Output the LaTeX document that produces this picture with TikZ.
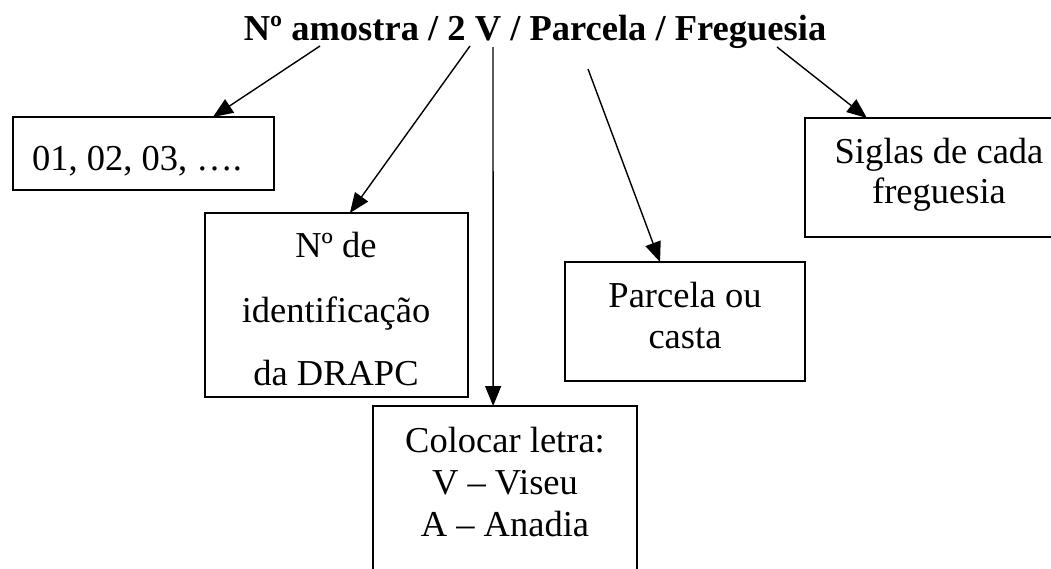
\documentclass[tikz,border=0pt]{standalone}
\usepackage{fontspec}
\setmainfont{Liberation Serif}
\usetikzlibrary{arrows.meta,calc}
\begin{document}
\begin{tikzpicture}[x=1pt,y=-1pt,
  box/.style={draw,line width=1.9pt,rectangle,inner sep=0pt,outer sep=0pt},
  txt/.style={anchor=base,inner sep=0pt,font=\fontsize{36.5}{41}\selectfont},
  ttl/.style={anchor=base,inner sep=0pt,font=\fontsize{36.5}{41}\selectfont\bfseries},
  arr/.style={line width=1.4pt,-{Triangle[length=20pt,width=16pt]}}]
\useasboundingbox (0,0) rectangle (1051,568);
% title
\node[ttl] (title) at (535,40) {Nº amostra / 2 V / Parcela / Freguesia};
% boxes
\node[box,minimum width=261pt,minimum height=73pt] (b1) at (143.5,153.5) {};
\node[box,minimum width=263pt,minimum height=184pt] (b2) at (336.5,305) {};
\node[box,minimum width=264pt,minimum height=194pt] (b3) at (505,503) {};
\node[box,minimum width=240pt,minimum height=119pt] (b4) at (685,321.5) {};
\node[box,minimum width=268pt,minimum height=119pt] (b5) at (939,177.5) {};
% texts
\node[txt] (t1) at (137,170) {01, 02, 03, ….};
\node[txt] (t2a) at (336,257) {Nº de};
\node[txt] (t2b) at (336,322) {identificação};
\node[txt] (t2c) at (336,385) {da DRAPC};
\node[txt] (t3a) at (505,452) {Colocar letra:};
\node[txt] (t3b) at (505,494) {V – Viseu};
\node[txt] (t3c) at (505,536) {A – Anadia};
\node[txt] (t4a) at (685,307) {Parcela ou};
\node[txt] (t4b) at (685,348) {casta};
\node[txt] (t5a) at (939,163) {Siglas de cada};
\node[txt] (t5b) at (939,203) {freguesia};
% arrow starts
\coordinate (s1) at (320,46);
\coordinate (s2) at (470,46);
\coordinate (s3) at (493,47);
\coordinate (s4) at (588,69);
\coordinate (s5) at (777,47);
% arrows
\draw[arr] (s1) -- ($(b1.north west)!0.766!(b1.north east)$);
\draw[arr] (s2) -- ($(b2.north west)!0.551!(b2.north east)$);
\draw[arr] (s3) -- ($(b3.north west)!0.455!(b3.north east)$);
\draw[arr] (s4) -- ($(b4.north west)!0.396!(b4.north east)$);
\draw[arr] (s5) -- ($(b5.north west)!0.231!(b5.north east)$);
\end{tikzpicture}
\end{document}
